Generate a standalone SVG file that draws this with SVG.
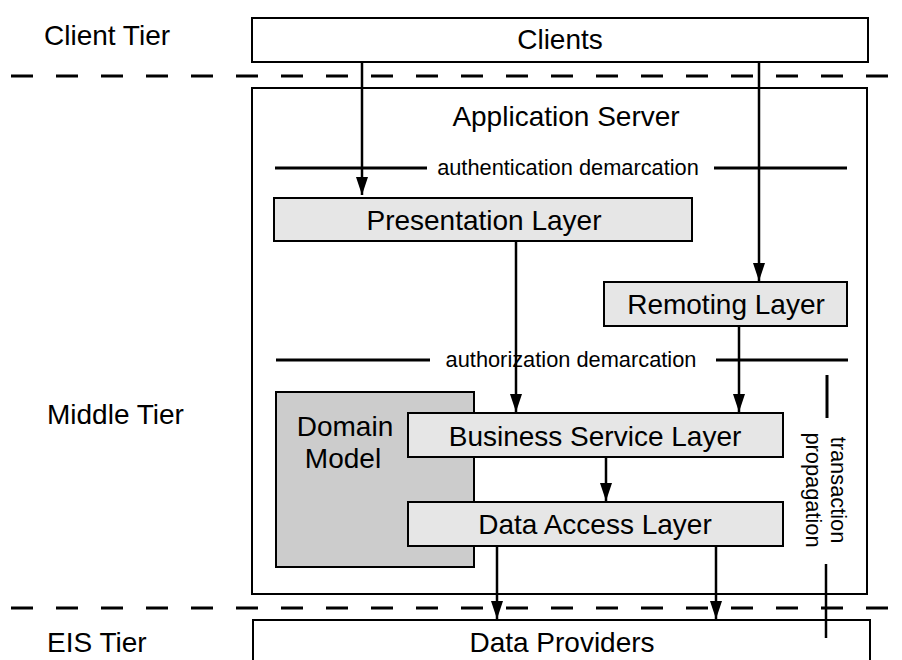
<svg xmlns="http://www.w3.org/2000/svg" width="902" height="660" viewBox="0 0 902 660">
  <style>
    .lbl { font-family: "Liberation Sans", Arial, Helvetica, sans-serif; font-size: 28px; fill: #000; }
    .sm { font-family: "Liberation Sans", Arial, Helvetica, sans-serif; font-size: 21.8px; fill: #000; }
    .mid { text-anchor: middle; }
    .tier { fill: #fff; stroke: #000; stroke-width: 2; }
    .layer { fill: #e6e6e6; stroke: #000; stroke-width: 2; }
    .domain { fill: #cccccc; stroke: #000; stroke-width: 2; }
    .sep { stroke: #000; stroke-width: 3; stroke-dasharray: 22 23; fill: none; }
    .demarc { stroke: #000; stroke-width: 3; fill: none; }
    .conn { stroke: #000; stroke-width: 2.5; fill: none; marker-end: url(#arrow); }
  </style>
  <defs>
    <marker id="arrow" viewBox="0 0 18 12" refX="18" refY="6" markerWidth="18" markerHeight="12" markerUnits="userSpaceOnUse" orient="auto">
      <path d="M0,0 L18,6 L0,12 Z" fill="#000"/>
    </marker>
  </defs>

  <rect width="902" height="660" fill="#fff"/>

  <!-- tier labels -->
  <g id="tier-labels">
    <text class="lbl" x="44" y="45">Client Tier</text>
    <text class="lbl" x="47" y="424">Middle Tier</text>
    <text class="lbl" x="47" y="652">EIS Tier</text>
  </g>

  <!-- tier separators -->
  <g id="separators">
    <line class="sep" x1="11" y1="76" x2="902" y2="76"/>
    <line class="sep" x1="11" y1="608" x2="902" y2="608"/>
  </g>

  <g id="clients">
    <rect class="tier" x="252" y="18" width="616" height="44"/>
    <text class="lbl mid" x="560" y="49">Clients</text>
  </g>

  <g id="application-server">
    <rect class="tier" x="252" y="88" width="615" height="506"/>
    <text class="lbl mid" x="566" y="126">Application Server</text>
  </g>

  <g id="authentication-demarcation">
    <line class="demarc" x1="275" y1="168" x2="427" y2="168"/>
    <line class="demarc" x1="714" y1="168" x2="847" y2="168"/>
    <text class="sm mid" x="568" y="175">authentication demarcation</text>
  </g>

  <g id="presentation-layer">
    <rect class="layer" x="274" y="198" width="418" height="43"/>
    <text class="lbl mid" x="484" y="230">Presentation Layer</text>
  </g>

  <g id="remoting-layer">
    <rect class="layer" x="604" y="282" width="243" height="44"/>
    <text class="lbl mid" x="726" y="314">Remoting Layer</text>
  </g>

  <g id="authorization-demarcation">
    <line class="demarc" x1="276" y1="360" x2="430" y2="360"/>
    <line class="demarc" x1="716" y1="360" x2="848" y2="360"/>
    <text class="sm mid" x="571" y="367">authorization demarcation</text>
  </g>

  <g id="domain-model">
    <rect class="domain" x="276" y="392" width="198" height="175"/>
    <text class="lbl mid" x="345" y="436">Domain</text>
    <text class="lbl mid" x="343" y="468">Model</text>
  </g>

  <g id="business-service-layer">
    <rect class="layer" x="408" y="413" width="375" height="44"/>
    <text class="lbl mid" x="595" y="446">Business Service Layer</text>
  </g>

  <g id="data-access-layer">
    <rect class="layer" x="408" y="502" width="375" height="44"/>
    <text class="lbl mid" x="595" y="534">Data Access Layer</text>
  </g>

  <g id="data-providers">
    <rect class="tier" x="253" y="620" width="617" height="60"/>
    <text class="lbl mid" x="562" y="652">Data Providers</text>
  </g>

  <g id="transaction-propagation">
    <line class="demarc" x1="827" y1="375" x2="827" y2="418"/>
    <line x1="826" y1="564" x2="826" y2="638" stroke="#000" stroke-width="2.5"/>
    <text class="sm mid" x="831" y="490" transform="rotate(90 831 490)">transaction</text>
    <text class="sm mid" x="806" y="490" transform="rotate(90 806 490)">propagation</text>
  </g>

  <!-- connectors -->
  <g id="connectors">
    <line class="conn" x1="362" y1="62" x2="362" y2="195"/>
    <line class="conn" x1="759" y1="62" x2="759" y2="281"/>
    <line class="conn" x1="516" y1="241" x2="516" y2="412"/>
    <line class="conn" x1="739" y1="326" x2="739" y2="412"/>
    <line class="conn" x1="606" y1="457" x2="606" y2="501"/>
    <line class="conn" x1="497" y1="546" x2="497" y2="619"/>
    <line class="conn" x1="716" y1="546" x2="716" y2="619"/>
  </g>
</svg>
